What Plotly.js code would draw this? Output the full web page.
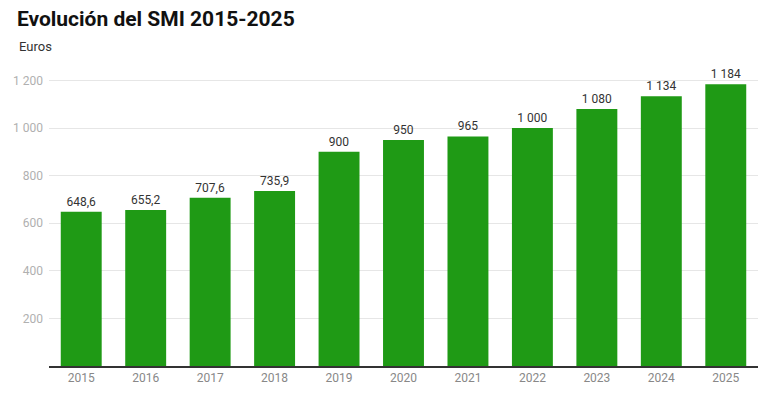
<!DOCTYPE html>
<html>
<head>
<meta charset="utf-8">
<script src="https://cdn.plot.ly/plotly-3.0.1.min.js"></script>
<style>
  html, body { margin: 0; padding: 0; background: #fff; }
  #chart { width: 768px; height: 407px; }
</style>
</head>
<body>
<div id="chart"></div>
<script>
// años y salario mínimo mensual (euros)
var years = ['2015', '2016', '2017', '2018', '2019', '2020', '2021', '2022', '2023', '2024', '2025'];
var smi = [648.6, 655.2, 707.6, 735.9, 900, 950, 965, 1000, 1080, 1134, 1184];
var yTicks = [200, 400, 600, 800, 1000, 1200];

var bars = {
    x: years,
    y: smi,
    type: 'bar',
    marker: { color: '#1f9a15' },
    texttemplate: '%{y:,}',
    textposition: 'outside',
    cliponaxis: false,
    textfont: { family: 'Roboto', size: 12, color: '#333333' },
    hoverinfo: 'none'
};

var layout = {
    width: 768,
    height: 407,
    separators: ', ',
    font: { family: 'Roboto', size: 12, color: '#333' },
    margin: { l: 49, r: 10, t: 60, b: 41, pad: 0 },
    bargap: 0.365,
    showlegend: false,
    plot_bgcolor: '#fff',
    paper_bgcolor: '#fff',
    title: {
        text: '<b>Evolución del SMI 2015-2025</b>',
        x: 0.022, xanchor: 'left', xref: 'container',
        y: 0.955, yanchor: 'middle',
        font: { family: 'Roboto', size: 21, color: '#111' }
    },
    annotations: [{
        text: 'Euros',
        xref: 'paper', yref: 'paper',
        x: -0.045, y: 1.043,
        xanchor: 'left', yanchor: 'middle',
        showarrow: false,
        font: { family: 'Roboto', size: 13, color: '#333' }
    }],
    xaxis: {
        type: 'category',
        fixedrange: true,
        showgrid: false,
        showline: true,
        linecolor: '#333',
        linewidth: 1.5,
        ticks: '',
        tickfont: { family: 'Roboto', size: 12, color: '#888' }
    },
    yaxis: {
        range: [0, 1286],
        fixedrange: true,
        tickvals: yTicks,
        tickformat: ',',
        showgrid: true,
        gridcolor: '#e6e6e6',
        gridwidth: 1,
        zeroline: false,
        showline: false,
        ticks: '',
        ticklabelstandoff: 5,
        tickfont: { family: 'Roboto', size: 12, color: '#b0b0b0' }
    }
};

Plotly.newPlot('chart', [bars], layout, { displayModeBar: false, staticPlot: true });
</script>
</body>
</html>
